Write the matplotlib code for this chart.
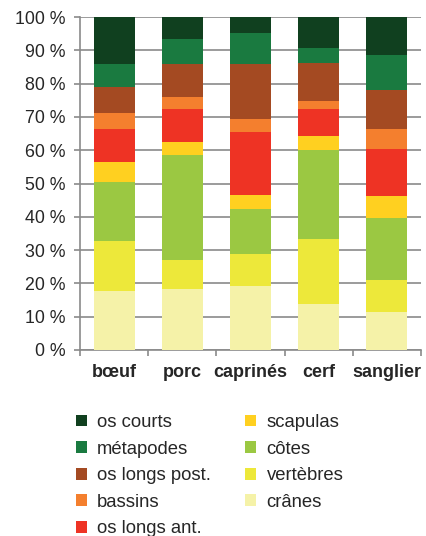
import matplotlib
matplotlib.use("Agg")
import matplotlib.pyplot as plt
import numpy as np
from matplotlib.patches import Patch

plt.rcParams['font.family'] = ['Liberation Sans', 'DejaVu Sans']

categories = ["bœuf", "porc", "caprinés", "cerf", "sanglier"]

# stacked from bottom to top (percent)
cranes      = [17.7, 18.2, 19.2, 13.8, 11.5]
vertebres   = [15.1,  8.9,  9.7, 19.6,  9.4]
cotes       = [17.8, 31.5, 13.3, 26.6, 18.6]
scapulas    = [ 5.8,  4.0,  4.4,  4.4,  6.7]
os_longs_ant  = [ 9.9,  9.7, 18.9,  7.9, 14.2]
bassins     = [ 4.9,  3.7,  3.9,  2.5,  5.9]
os_longs_post = [ 7.9,  9.9, 16.5, 11.4, 11.9]
metapodes   = [ 6.9,  7.6,  9.4,  4.5, 10.3]
os_courts   = [14.0,  6.5,  4.7,  9.3, 11.5]

series = [
    ("crânes", cranes, "#F5F2A8"),
    ("vertèbres", vertebres, "#EDE83A"),
    ("côtes", cotes, "#9BC842"),
    ("scapulas", scapulas, "#FFD020"),
    ("os longs ant.", os_longs_ant, "#EE3324"),
    ("bassins", bassins, "#F47F2E"),
    ("os longs post.", os_longs_post, "#A44A22"),
    ("métapodes", metapodes, "#1A7A40"),
    ("os courts", os_courts, "#10401F"),
]

TEXT = "#262626"
GRID = "#8A8A8A"

fig = plt.figure(figsize=(4.27, 5.36), dpi=100)
ax = fig.add_axes([80 / 427, 186 / 536, 341 / 427, 333 / 536])

x = np.arange(len(categories))
bottom = np.zeros(len(categories))
handles = {}
for name, vals, color in series:
    vals = np.array(vals)
    ax.bar(x, vals, width=0.6, bottom=bottom, color=color,
           edgecolor='none', zorder=3)
    handles[name] = Patch(facecolor=color, edgecolor='none')
    bottom += vals

ax.set_xlim(-0.5, len(categories) - 0.5)
ax.set_ylim(0, 100)
ax.set_yticks(np.arange(0, 101, 10))
ax.set_yticklabels([f"{v} %" for v in range(0, 101, 10)], fontsize=12.8,
                   color=TEXT)
ax.yaxis.grid(True, color=GRID, linewidth=1.2, zorder=0)
ax.set_axisbelow(True)

ax.set_xticks(x)
ax.set_xticklabels(categories, fontsize=13, fontweight='bold', color=TEXT)
ax.tick_params(axis='x', length=0, pad=10)
ax.set_xticks(np.arange(-0.5, len(categories), 1), minor=True)
ax.tick_params(axis='x', which='minor', length=4, color=GRID, width=1.2)
ax.tick_params(axis='y', length=4, color=GRID, width=1.2, pad=6.5)

for s in ['top', 'right']:
    ax.spines[s].set_visible(False)
for s in ['left', 'bottom']:
    ax.spines[s].set_color(GRID)
    ax.spines[s].set_linewidth(1.2)

order = ["os courts", "métapodes", "os longs post.", "bassins", "os longs ant.",
         "scapulas", "côtes", "vertèbres", "crânes"]
leg = fig.legend([handles[n] for n in order], order, ncol=2, loc='upper left',
                 bbox_to_anchor=(76 / 427, (536 - 414) / 536), frameon=False,
                 fontsize=13.3, borderpad=0, borderaxespad=0,
                 handlelength=0.6, handleheight=0.6, handletextpad=0.55,
                 columnspacing=1.85, labelspacing=0.52)
for t in leg.get_texts():
    t.set_color(TEXT)

fig.savefig("out.png", dpi=100)
